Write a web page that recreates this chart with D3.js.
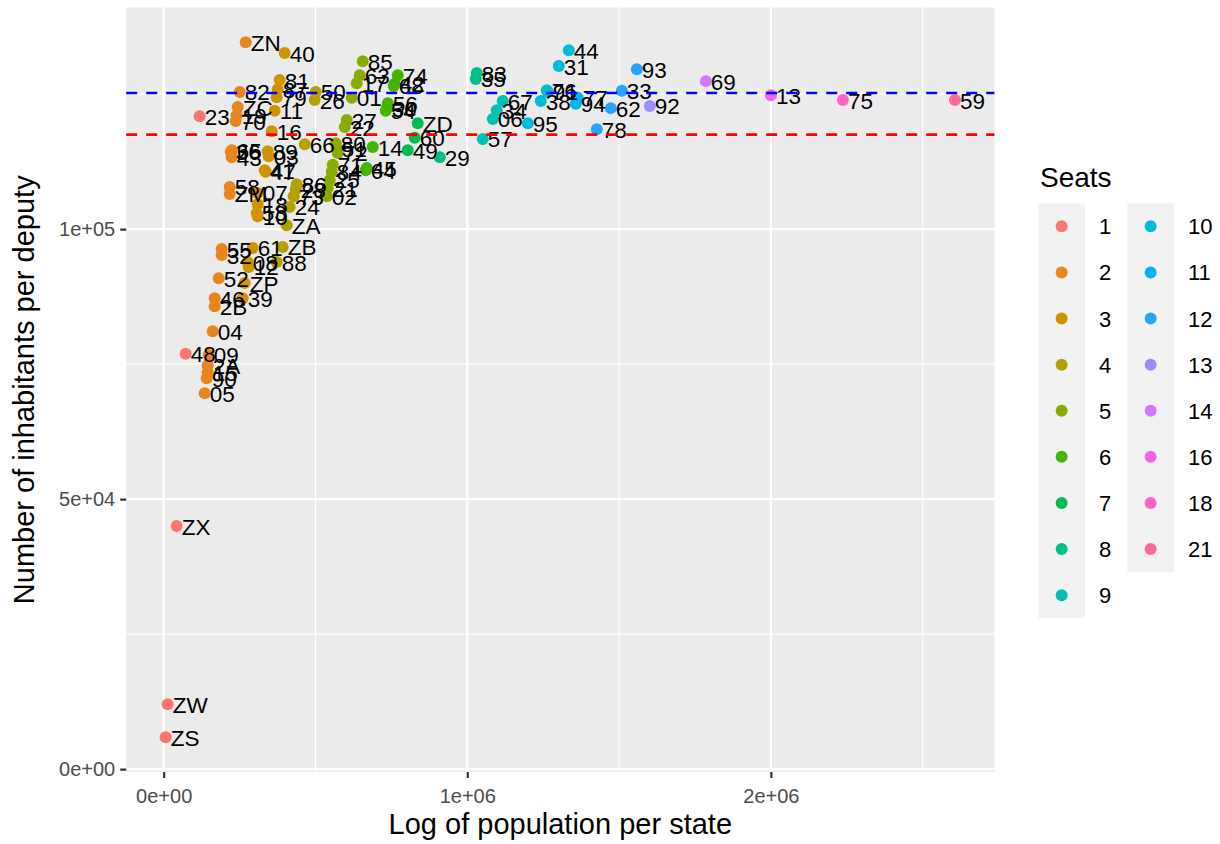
<!DOCTYPE html>
<html>
<head>
<meta charset="utf-8">
<script src="https://cdn.jsdelivr.net/npm/d3@7"></script>
<style>
  body { margin: 0; background: #fff; }
  svg text { font-family: "Liberation Sans", Arial, Helvetica, sans-serif; }
</style>
</head>
<body>
<div id="chart"></div>
<script>
// one entry per state
const codes = [
  'ZS', 'ZW', 'ZX', '48', '23',
  'ZN', '82', 'ZC', '19', '70', '65', '36', '43', '58', 'ZM', '55', '32', '52', '46', '2B', '04', '09', '2A', '15', '90', '05',
  '40', '81', '87', '79', '11', '16', '89', '03', '41', '47', '07', '18', '53', '10', '61', '08', '12', 'ZP', '39',
  '50', '26', '66', '86', '28', '73', '24', 'ZA', 'ZB', '88',
  '85', '63', '17', '01', '27', '22', '80', '51', '72', '71', '84', '25', '21', '02',
  '74', '42', '68', '56', '30', '54', '14', '45', '64',
  'ZD', '60', '49',
  '83', '35', '29',
  '67', '34', '06', '57',
  '44', '31', '76', '91', '38', '95',
  '77', '94',
  '93', '33', '62', '78',
  '92', '69', '13', '75', '59'
]
const seats = [
  1, 1, 1, 1, 1,
  2, 2, 2, 2, 2, 2, 2, 2, 2, 2, 2, 2, 2, 2, 2, 2, 2, 2, 2, 2, 2,
  3, 3, 3, 3, 3, 3, 3, 3, 3, 3, 3, 3, 3, 3, 3, 3, 3, 3, 3,
  4, 4, 4, 4, 4, 4, 4, 4, 4, 4,
  5, 5, 5, 5, 5, 5, 5, 5, 5, 5, 5, 5, 5, 5,
  6, 6, 6, 6, 6, 6, 6, 6, 6,
  7, 7, 7,
  8, 8, 8,
  9, 9, 9, 9,
  10, 10, 10, 10, 10, 10,
  11, 11,
  12, 12, 12, 12,
  13, 14, 16, 18, 21
]
const population = [
  6600, 13200, 42800, 72500, 118600,
  270200, 250400, 243800, 240500, 237200, 224100, 221000, 224100, 217500, 217500, 191100, 191100, 181200, 168000, 168000, 161500, 148300, 145000, 145000, 141700, 135100,
  398700, 382200, 375600, 372300, 365700, 355900, 342700, 346000, 332800, 336100, 309700, 309700, 306400, 309700, 293300, 276800, 280100, 266900, 260300,
  500800, 497500, 464600, 438200, 435000, 428400, 415200, 405300, 392100, 372300,
  655700, 645800, 635900, 619500, 603000, 596400, 566700, 570000, 573300, 556900, 553600, 547000, 540400, 537100,
  771000, 761100, 757900, 738100, 734800, 731500, 688700, 668900, 665600,
  836900, 827000, 804000,
  1031300, 1028000, 909400,
  1117000, 1097200, 1084100, 1051100,
  1334500, 1301500, 1262000, 1265300, 1242200, 1199400,
  1364100, 1357500,
  1558500, 1509100, 1472900, 1426700,
  1601400, 1785900, 2000100, 2237300, 2606300
]
const perDeputy = [
  5900, 12000, 45000, 76900, 120900,
  134600, 125400, 122600, 121100, 120000, 114600, 114300, 113300, 107800, 106500, 96300, 95200, 90900, 87200, 85700, 81100, 76700, 74800, 73500, 72400, 69600,
  132600, 127600, 125900, 124400, 121900, 118100, 114400, 113500, 110900, 110600, 106700, 104600, 103000, 102400, 96500, 93900, 93000, 90000, 87200,
  125400, 123900, 115700, 108300, 107400, 106100, 104100, 100700, 96700, 93900,
  131100, 128500, 127000, 124300, 120200, 118900, 115900, 115000, 114100, 111900, 110600, 109100, 107600, 106100,
  128500, 126900, 126500, 123300, 122400, 121900, 115200, 111300, 110900,
  119600, 116900, 114600,
  128900, 127800, 113300,
  123700, 122000, 120400, 116700,
  133100, 130200, 125700, 125400, 123700, 119600,
  124300, 123200,
  129600, 125600, 122400, 118500,
  122800, 127400, 124800, 123900, 123900
]

const seatLevels = [1, 2, 3, 4, 5, 6, 7, 8, 9, 10, 11, 12, 13, 14, 16, 18, 21]
const blueLine = 125200
const redLine = 117500

const xTicks = [0, 1e6, 2e6]
const xTickLabels = ['0e+00', '1e+06', '2e+06']
const xMinor = [5e5, 1.5e6, 2.5e6]
const yTicks = [0, 5e4, 1e5]
const yTickLabels = ['0e+00', '5e+04', '1e+05']
const yMinor = [2.5e4, 7.5e4, 1.25e5]

const W = 1220, H = 844
const panel = { left: 126.2, right: 994.4, top: 7.5, bottom: 772 }
const FONT_TICK = 20
const FONT_AXIS_TITLE = 29
const FONT_LEGEND_TITLE = 28
const FONT_LEGEND = 22
const FONT_LABEL = 22.5

// ggplot's default hue palette (polar LUV, c = 100, l = 65)
function hueColor(h) {
  const hr = h * Math.PI / 180
  const L = 65, U = 100 * Math.cos(hr), V = 100 * Math.sin(hr)
  const Xn = 95.047, Yn = 100, Zn = 108.883
  const den = Xn + 15 * Yn + 3 * Zn
  const un = 4 * Xn / den, vn = 9 * Yn / den
  const Y = Yn * Math.pow((L + 16) / 116, 3)
  const u = U / (13 * L) + un, v = V / (13 * L) + vn
  const X = Y * 9 * u / (4 * v)
  const Z = Y * (12 - 3 * u - 20 * v) / (4 * v)
  const x = X / 100, y = Y / 100, z = Z / 100
  const lin = [
    3.240479 * x - 1.537150 * y - 0.498535 * z,
    -0.969256 * x + 1.875992 * y + 0.041556 * z,
    0.055648 * x - 0.204043 * y + 1.057311 * z
  ]
  const c = lin.map(t => {
    const g = t <= 0.0031308 ? 12.92 * t : 1.055 * Math.pow(t, 1 / 2.4) - 0.055
    return Math.round(255 * Math.max(0, Math.min(1, g)))
  })
  return d3.rgb(c[0], c[1], c[2]).formatHex()
}
const n = seatLevels.length
const palette = seatLevels.map((d, i) => hueColor(15 + i * 360 / n))
const color = d3.scaleOrdinal().domain(seatLevels).range(palette)

const data = codes.map((c, i) => ({ code: c, seats: seats[i], x: population[i], y: perDeputy[i] }))

function expand(ext) {
  const pad = (ext[1] - ext[0]) * 0.05
  return [ext[0] - pad, ext[1] + pad]
}

const x = d3.scaleLinear().domain(expand(d3.extent(population))).range([panel.left, panel.right])
const y = d3.scaleLinear().domain(expand(d3.extent(perDeputy))).range([panel.bottom, panel.top])

const svg = d3.select('#chart')
  .append('svg')
  .attr('width', W)
  .attr('height', H)
svg.append('rect').attr('width', W).attr('height', H).attr('fill', '#fff')

svg.append('rect')
  .attr('x', panel.left).attr('y', panel.top)
  .attr('width', panel.right - panel.left)
  .attr('height', panel.bottom - panel.top)
  .attr('fill', '#EBEBEB')

const grid = svg.append('g')
grid.selectAll('.xminor').data(xMinor).enter().append('line')
  .attr('x1', d => x(d)).attr('x2', d => x(d))
  .attr('y1', panel.top).attr('y2', panel.bottom)
  .attr('stroke', '#fff').attr('stroke-width', 1.1)
grid.selectAll('.yminor').data(yMinor).enter().append('line')
  .attr('y1', d => y(d)).attr('y2', d => y(d))
  .attr('x1', panel.left).attr('x2', panel.right)
  .attr('stroke', '#fff').attr('stroke-width', 1.1)
grid.selectAll('.xmajor').data(xTicks).enter().append('line')
  .attr('x1', d => x(d)).attr('x2', d => x(d))
  .attr('y1', panel.top).attr('y2', panel.bottom)
  .attr('stroke', '#fff').attr('stroke-width', 2.2)
grid.selectAll('.ymajor').data(yTicks).enter().append('line')
  .attr('y1', d => y(d)).attr('y2', d => y(d))
  .attr('x1', panel.left).attr('x2', panel.right)
  .attr('stroke', '#fff').attr('stroke-width', 2.2)

// axes
const xAxis = svg.append('g')
  .attr('transform', `translate(0,${panel.bottom})`)
  .call(d3.axisBottom(x).tickValues(xTicks).tickFormat((d, i) => xTickLabels[i]).tickSize(6).tickPadding(7))
const yAxis = svg.append('g')
  .attr('transform', `translate(${panel.left},0)`)
  .call(d3.axisLeft(y).tickValues(yTicks).tickFormat((d, i) => yTickLabels[i]).tickSize(6).tickPadding(5))
;[xAxis, yAxis].forEach(a => {
  a.select('.domain').remove()
  a.selectAll('.tick line').attr('stroke', '#333333').attr('stroke-width', 2.2)
  a.selectAll('.tick text')
    .attr('fill', '#4D4D4D')
    .style('font-size', FONT_TICK + 'px')
    .style('font-family', '"Liberation Sans", Arial, sans-serif')
})
xAxis.selectAll('.tick text').attr('dy', '0.9em')

// points
svg.append('g').selectAll('circle')
  .data(data)
  .enter()
  .append('circle')
  .attr('cx', d => x(d.x))
  .attr('cy', d => y(d.y))
  .attr('r', 6)
  .attr('fill', d => color(d.seats))

// labels
svg.append('g').selectAll('text')
  .data(data)
  .enter()
  .append('text')
  .attr('x', d => x(d.x) + 5)
  .attr('y', d => y(d.y) + 8.5)
  .attr('fill', '#000')
  .style('font-size', FONT_LABEL + 'px')
  .text(d => d.code)

// reference lines
const refs = [{ v: blueLine, c: '#0000FF' }, { v: redLine, c: '#FF0000' }]
svg.append('g').selectAll('line')
  .data(refs)
  .enter()
  .append('line')
  .attr('x1', panel.left).attr('x2', panel.right)
  .attr('y1', d => y(d.v)).attr('y2', d => y(d.v))
  .attr('stroke', d => d.c)
  .attr('stroke-width', 2.6)
  .attr('stroke-dasharray', '11,9')

// axis titles
svg.append('text')
  .attr('x', (panel.left + panel.right) / 2)
  .attr('y', 834)
  .attr('text-anchor', 'middle')
  .style('font-size', FONT_AXIS_TITLE + 'px')
  .text('Log of population per state')
svg.append('text')
  .attr('transform', `translate(34,${(panel.top + panel.bottom) / 2}) rotate(-90)`)
  .attr('text-anchor', 'middle')
  .style('font-size', FONT_AXIS_TITLE + 'px')
  .text('Number of inhabitants per deputy')

// legend
const legend = svg.append('g')
legend.append('text')
  .attr('x', 1040).attr('y', 187)
  .style('font-size', FONT_LEGEND_TITLE + 'px')
  .text('Seats')
const rowsPerCol = Math.ceil(n / 2)
const keyW = 46.7, keyH = 46.1, keyTop = 203.3
const colX = [1038.3, 1127.3]
;[0, 1].forEach(ci => {
  const items = seatLevels.slice(ci * rowsPerCol, (ci + 1) * rowsPerCol)
  legend.append('rect')
    .attr('x', colX[ci]).attr('y', keyTop)
    .attr('width', keyW).attr('height', keyH * items.length)
    .attr('fill', '#F2F2F2')
  const g = legend.selectAll(`.key${ci}`)
    .data(items)
    .enter()
    .append('g')
    .attr('transform', (d, i) => `translate(${colX[ci]},${keyTop + keyH * i})`)
  g.append('circle')
    .attr('cx', keyW / 2).attr('cy', keyH / 2)
    .attr('r', 6)
    .attr('fill', d => color(d))
  g.append('text')
    .attr('x', keyW + 14).attr('y', keyH / 2 + 8)
    .style('font-size', FONT_LEGEND + 'px')
    .text(d => d)
})
</script>
</body>
</html>
